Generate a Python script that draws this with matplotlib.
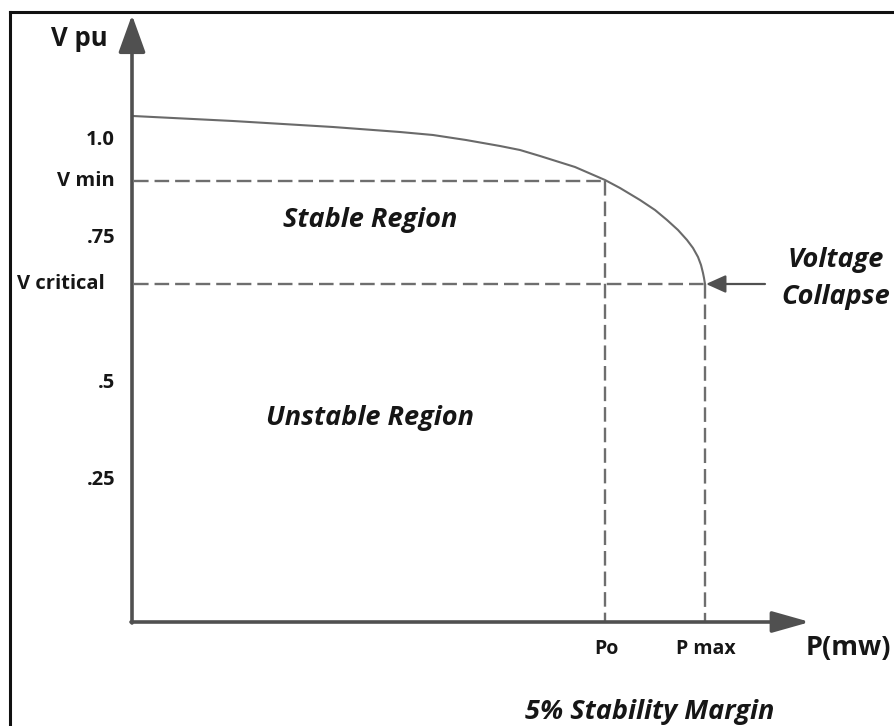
import matplotlib
matplotlib.use("Agg")
import matplotlib.pyplot as plt
from matplotlib.lines import Line2D

plt.rcParams['font.family'] = ['Open Sans', 'DejaVu Sans']
plt.rcParams['lines.scale_dashes'] = False

# ---- data (diagram units; origin at the axes intersection) ----
curve_p = [1, 101, 201, 268, 301, 334, 368, 388, 408, 443, 473, 488, 508, 523,
           535, 546, 555, 561, 566, 569, 571, 572, 573]
curve_v = [506, 501, 495, 490, 487, 482, 476, 472, 466, 455, 442, 434, 422, 412,
           402, 392, 382, 374, 365, 357, 349, 344, 338]

p_o, p_max = 473, 573
v_min, v_crit = 441, 338

ytick_pos = [482, 441, 384, 338, 239, 142]
ytick_labels = ['1.0', 'V min', '.75', 'V critical', '.5', '.25']
xtick_pos = [p_o, p_max]
xtick_labels = ['Po', 'P max']

AX_C = '#505050'
LN_C = '#6a6a6a'
DS_C = '#6e6e6e'
TX_C = '#161616'

fig = plt.figure(figsize=(8.94, 7.26), dpi=100)
ax = fig.add_axes([0, 0, 1, 1])
ax.set_xlim(-132, 762)
ax.set_ylim(-104, 622)
ax.axis('off')

# frame (top + left edges)
fig.add_artist(Line2D([10/894, 1.0], [1 - 12/726, 1 - 12/726], transform=fig.transFigure, color='#111111', lw=2.2))
fig.add_artist(Line2D([10/894, 10/894], [0, 1 - 12/726], transform=fig.transFigure, color='#111111', lw=2.2))

# axes arrows
ax.annotate('', xy=(0, 607), xytext=(0, -1),
            arrowprops=dict(arrowstyle='-|>,head_length=23,head_width=8.3', mutation_scale=1,
                            lw=2.6, color=AX_C, shrinkA=0, shrinkB=0))
ax.annotate('', xy=(678, 0), xytext=(-1, 0),
            arrowprops=dict(arrowstyle='-|>,head_length=23,head_width=6.5', mutation_scale=1,
                            lw=2.6, color=AX_C, shrinkA=0, shrinkB=0))

# curve
ax.plot(curve_p, curve_v, color=LN_C, lw=1.5, solid_capstyle='round', solid_joinstyle='round')

# dashed guide lines
dash = (10.5, 4.3)
for (xs, ys) in [([2, p_o], [v_min, v_min]), ([p_o, p_o], [v_min, 0]),
                 ([2, p_max], [v_crit, v_crit]), ([p_max, p_max], [v_crit, 0])]:
    ax.plot(xs, ys, color=DS_C, lw=1.7, dashes=dash)

# collapse arrow
ax.annotate('', xy=(p_max + 1, v_crit), xytext=(633, v_crit),
            arrowprops=dict(arrowstyle='-|>,head_length=12,head_width=5.4', mutation_scale=1,
                            lw=1.6, color=AX_C, shrinkA=0, shrinkB=0))

# tick labels
for pos, lab in zip(ytick_pos, ytick_labels):
    x = -17 if lab != 'V critical' else -27
    ax.text(x, pos, lab, ha='right', va='center', fontsize=14.5, fontweight='bold', color=TX_C)
for pos, lab in zip(xtick_pos, xtick_labels):
    ax.text(pos + 1, -27, lab, ha='center', va='center', fontsize=14, fontweight='bold', color=TX_C)

# axis titles
ax.text(-53, 583, 'V pu', ha='center', va='center', fontsize=18.5, fontweight='bold', color=TX_C)
ax.text(716, -26, 'P(mw)', ha='center', va='center', fontsize=19.5, fontweight='bold', color=TX_C)

# annotations
kw = dict(ha='center', va='center', fontsize=19.5, fontweight='bold', style='italic', color=TX_C)
ax.text(238, 402, 'Stable Region', **kw)
ax.text(238, 204, 'Unstable Region', **kw)
ax.text(704, 362, 'Voltage', **kw)
ax.text(704, 325, 'Collapse', **kw)
ax.text(518, -90, '5% Stability Margin', **kw)

fig.savefig('out.png', dpi=100)
